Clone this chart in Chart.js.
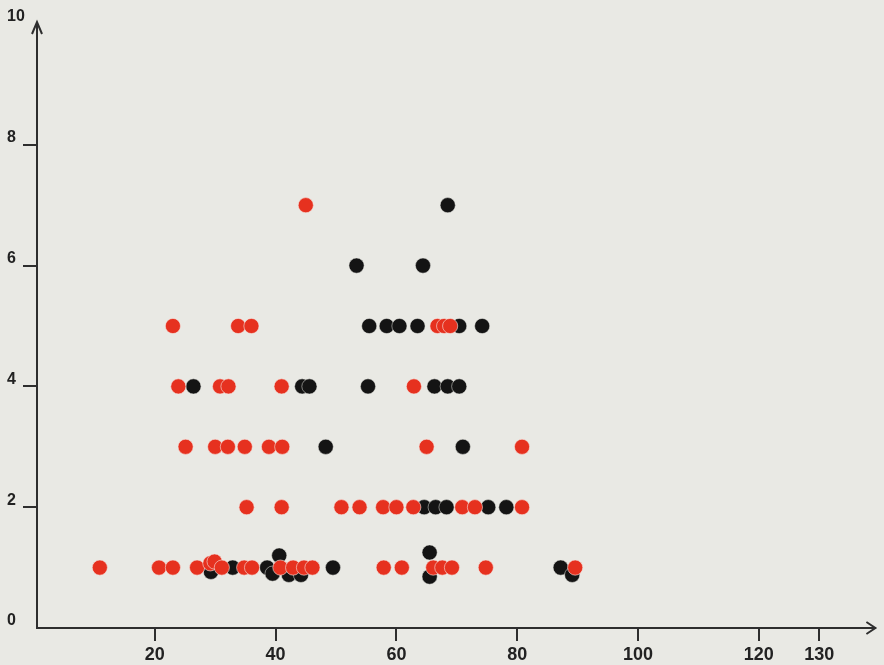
<!DOCTYPE html>
<html>
<head>
<meta charset="utf-8">
<script src="https://cdn.jsdelivr.net/npm/chart.js@4/dist/chart.umd.min.js"></script>
<style>
  html, body { margin: 0; padding: 0; background: #e9e9e4; }
  #wrap { width: 884px; height: 665px; }
</style>
</head>
<body>
<div id="wrap"><canvas id="chart"></canvas></div>
<script>
// tick labels
const xTicks = [20, 40, 60, 80, 100, 120, 130];
const yTicks = [0, 2, 4, 6, 8, 10];

// red series
const redX = [45.0,
  23.0, 33.8, 36.0, 66.8, 67.9, 68.9,
  23.9, 30.8, 32.2, 41.0, 62.9,
  25.1, 30.0, 32.1, 34.9, 38.9, 41.1, 65.0, 80.8,
  35.2, 41.0, 50.9, 53.9, 57.8, 60.0, 62.8, 70.9, 73.0, 80.8,
  10.9, 20.7, 23.0, 27.0, 29.2, 29.9, 31.1, 34.8, 36.1, 40.8, 42.9, 44.7, 46.1, 57.9, 60.9, 66.1, 67.6, 69.2, 74.8, 89.6];
const redY = [7,
  5, 5, 5, 5, 5, 5,
  4, 4, 4, 4, 4,
  3, 3, 3, 3, 3, 3, 3, 3,
  2, 2, 2, 2, 2, 2, 2, 2, 2, 2,
  1, 1, 1, 1, 1.07, 1.1, 1, 1, 1, 1, 1, 1, 1, 1, 1, 1, 1, 1, 1, 1];

// black series
const blackX = [68.5,
  53.4, 64.4,
  55.5, 58.4, 60.5, 63.5, 70.4, 74.2,
  26.4, 44.4, 45.6, 55.3, 66.3, 68.5, 70.4,
  48.3, 71.0,
  64.6, 66.5, 68.3, 75.2, 78.2,
  29.3, 32.9, 38.6, 39.5, 40.6, 42.2, 44.2, 49.5, 65.5, 65.5, 87.2, 89.1];
const blackY = [7,
  6, 6,
  5, 5, 5, 5, 5, 5,
  4, 4, 4, 4, 4, 4, 4,
  3, 3,
  2, 2, 2, 2, 2,
  0.93, 1, 1, 0.9, 1.2, 0.88, 0.88, 1, 1.25, 0.85, 1, 0.88];

const red = redX.map((x, i) => ({ x: x, y: redY[i] }));
const black = blackX.map((x, i) => ({ x: x, y: blackY[i] }));

const axisColor = "#2e2e2e";

// arrow heads on the axes
const arrows = {
  id: "arrows",
  afterDraw(chart) {
    const ctx = chart.ctx;
    const a = chart.chartArea;
    ctx.save();
    ctx.strokeStyle = axisColor;
    ctx.lineWidth = 2;
    ctx.beginPath();
    ctx.moveTo(a.left, a.top);
    ctx.lineTo(a.left, a.top - 2);
    ctx.moveTo(a.left - 5, a.top + 10);
    ctx.lineTo(a.left, a.top - 2);
    ctx.lineTo(a.left + 5, a.top + 10);
    ctx.moveTo(a.right - 9, a.bottom - 6);
    ctx.lineTo(a.right, a.bottom);
    ctx.lineTo(a.right - 9, a.bottom + 6);
    ctx.stroke();
    ctx.restore();
  }
};

new Chart(document.getElementById("chart"), {
  type: "scatter",
  data: {
    datasets: [
      {
        label: "red",
        data: red,
        backgroundColor: "#e6311f",
        borderColor: "rgba(245,230,225,0.6)",
        borderWidth: 1,
        pointRadius: 7.6,
        pointHoverRadius: 7.6
      },
      {
        label: "black",
        data: black,
        backgroundColor: "#141414",
        borderColor: "rgba(235,235,230,0.5)",
        borderWidth: 1,
        pointRadius: 7.6,
        pointHoverRadius: 7.6
      }
    ]
  },
  options: {
    responsive: true,
    maintainAspectRatio: false,
    animation: false,
    devicePixelRatio: 1,
    layout: { padding: { left: 7, top: 24, right: 6, bottom: 0 } },
    plugins: {
      legend: { display: false },
      tooltip: { enabled: false }
    },
    scales: {
      x: {
        type: "linear",
        min: 0.5,
        max: 139.3,
        border: { color: axisColor, width: 2 },
        grid: { drawOnChartArea: false, tickLength: 13, color: axisColor, lineWidth: 2 },
        ticks: {
          color: "#222",
          font: { family: "Liberation Sans", size: 18, weight: "bold" },
          padding: 3,
          maxRotation: 0,
          autoSkip: false
        },
        afterBuildTicks: s => { s.ticks = xTicks.map(v => ({ value: v })); },
        afterFit: s => { s.height = 37; }
      },
      y: {
        min: 0,
        max: 10,
        border: { color: axisColor, width: 2 },
        grid: {
          drawOnChartArea: false,
          tickLength: 14,
          lineWidth: 2,
          color: c => (c.tick && (c.tick.value === 0 || c.tick.value === 10)) ? "rgba(0,0,0,0)" : axisColor
        },
        ticks: {
          color: "#222",
          font: { family: "Liberation Sans", size: 16, weight: "bold" },
          crossAlign: "far",
          labelOffset: -7,
          padding: 0
        },
        afterBuildTicks: s => { s.ticks = yTicks.map(v => ({ value: v })); },
        afterFit: s => { s.width = 30; }
      }
    }
  },
  plugins: [arrows]
});
</script>
</body>
</html>
